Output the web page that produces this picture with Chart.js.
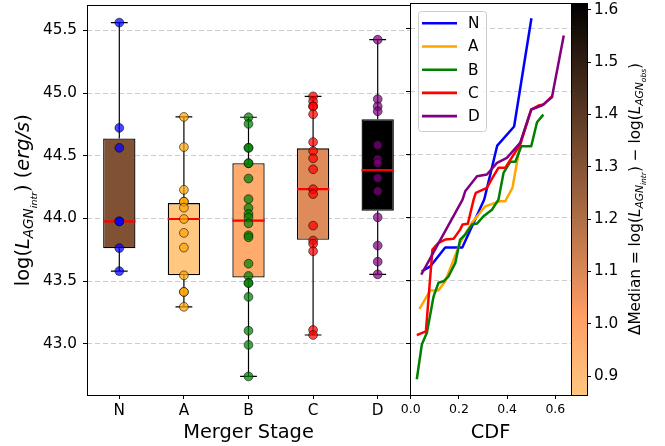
<!DOCTYPE html>
<html><head><meta charset="utf-8">
<script src="https://cdn.jsdelivr.net/npm/chart.js@4.4.0/dist/chart.umd.min.js"></script>
<style>
html,body{margin:0;padding:0;background:#fff;}
#wrap{position:relative;width:665px;height:446px;overflow:hidden;background:#fff;}
canvas{position:absolute;top:0;}
#c1{left:0;width:420px;height:446px;}
#c2{left:395px;width:190px;height:446px;}
#c3{left:560px;width:105px;height:446px;}
</style></head><body>
<div id="wrap">
<canvas id="c1" width="420" height="446"></canvas>
<canvas id="c2" width="190" height="446"></canvas>
<canvas id="c3" width="105" height="446"></canvas>
</div>
<script>
// ---------------- DATA ----------------
const categories = ['N', 'A', 'B', 'C', 'D'];
const boxQ1 = [43.762, 43.545, 43.527, 43.829, 44.061];
const boxQ3 = [44.638, 44.122, 44.440, 44.559, 44.791];
const boxMedian = [43.976, 43.995, 43.982, 44.233, 44.385];
const whiskerLow = [43.579, 43.294, 42.738, 43.069, 43.553];
const whiskerHigh = [45.563, 44.810, 44.807, 44.974, 45.426];
const deltaMedian = [1.31, 0.864, 0.97, 1.09, 1.613];

const pointsN = [45.563, 44.722, 44.563, 43.976, 43.976, 43.762, 43.579];
const pointsA = [44.810, 44.569, 44.228, 44.133, 44.133, 44.085, 43.995, 43.884, 43.767, 43.545, 43.413, 43.413, 43.294];
const pointsB = [44.807, 44.754, 44.563, 44.563, 44.440, 44.440, 44.318, 44.154, 44.083, 44.035, 44.008, 43.960,
                 43.865, 43.849, 43.638, 43.540, 43.484, 43.484, 43.373, 43.103, 42.990, 42.738];
const pointsC = [44.974, 44.934, 44.894, 44.894, 44.831, 44.609, 44.537, 44.479, 44.392, 44.233, 44.194, 43.942,
                 43.823, 43.797, 43.738, 43.109, 43.069];
const pointsD = [45.426, 44.952, 44.894, 44.855, 44.585, 44.470, 44.440, 44.321, 44.217, 44.008, 43.783, 43.654, 43.553];

const cdfN = [0.050, 0.081, 0.143, 0.214, 0.305, 0.359, 0.429, 0.500];
const lumN = [43.575, 43.610, 43.760, 43.760, 44.141, 44.569, 44.720, 45.569];
const cdfA = [0.039, 0.081, 0.115, 0.143, 0.205, 0.254, 0.309, 0.371, 0.392, 0.422, 0.454, 0.490];
const lumA = [43.281, 43.420, 43.420, 43.490, 43.797, 43.956, 44.087, 44.127, 44.127, 44.233, 44.577, 44.795];
const cdfB = [0.026, 0.046, 0.067, 0.095, 0.115, 0.136, 0.157, 0.185, 0.205, 0.226, 0.254, 0.275, 0.302, 0.337,
              0.364, 0.385, 0.413, 0.434, 0.459, 0.500, 0.524, 0.547];
const lumB = [42.725, 42.990, 43.083, 43.373, 43.480, 43.492, 43.532, 43.638, 43.823, 43.863, 43.942, 43.950, 44.008, 44.060,
              44.140, 44.352, 44.440, 44.440, 44.563, 44.563, 44.754, 44.807];
const cdfC = [0.030, 0.063, 0.090, 0.115, 0.143, 0.178, 0.205, 0.215, 0.237, 0.261, 0.270, 0.316, 0.339, 0.364,
              0.392, 0.454, 0.500, 0.530, 0.551, 0.586];
const lumC = [43.069, 43.095, 43.744, 43.797, 43.823, 43.829, 43.902, 43.942, 43.948, 44.140, 44.194, 44.233, 44.313, 44.392,
              44.392, 44.577, 44.855, 44.886, 44.894, 44.960];
const cdfD = [0.046, 0.215, 0.226, 0.275, 0.316, 0.358, 0.399, 0.454, 0.500, 0.544, 0.586, 0.634];
const lumD = [43.553, 44.140, 44.206, 44.325, 44.339, 44.432, 44.471, 44.590, 44.855, 44.886, 44.952, 45.432];

const yTickValues = [43.0, 43.5, 44.0, 44.5, 45.0, 45.5];
const cdfTickValues = [0.0, 0.2, 0.4, 0.6];
const cbarTickValues = [0.9, 1.0, 1.1, 1.2, 1.3, 1.4, 1.5, 1.6];

// ---------------- STYLE / HELPERS ----------------
const yMin = 42.59, yMax = 45.70;
const cdfMin = -0.003, cdfMax = 0.665;
const cbMin = Math.min(...deltaMedian), cbMax = Math.max(...deltaMedian);
const seriesColors = ['rgb(0,0,255)', 'rgb(255,165,0)', 'rgb(0,128,0)', 'rgb(255,0,0)', 'rgb(128,0,128)'];
const pointFill = ['rgba(0,0,255,0.72)', 'rgba(255,165,0,0.72)', 'rgba(0,128,0,0.72)', 'rgba(255,0,0,0.72)', 'rgba(128,0,128,0.72)'];
const gridColor = 'rgba(0,0,0,0.2)';
const FONT = '"DejaVu Sans", sans-serif';

Chart.defaults.font.family = FONT;
Chart.defaults.color = '#000';
Chart.defaults.animation = false;

function copper(x) {
  return [Math.min(1, 1.25 * x), 0.7812 * x, 0.4975 * x].map(c => Math.round(c * 255));
}
function cmap(v) {
  const t = Math.max(0, Math.min(1, (v - cbMin) / (cbMax - cbMin)));
  return 'rgb(' + copper(1 - t).join(',') + ')';
}

function drawRich(ctx, parts, cx, cy, rot, base) {
  ctx.save();
  ctx.translate(cx, cy);
  ctx.rotate(rot);
  const fontOf = p => (p.it ? 'italic ' : '') + (base * (p.s || 1)).toFixed(2) + 'px ' + FONT;
  let total = 0;
  const widths = parts.map(p => { ctx.font = fontOf(p); const w = ctx.measureText(p.t).width; total += w; return w; });
  let x = -total / 2;
  ctx.fillStyle = '#000';
  ctx.textAlign = 'left';
  ctx.textBaseline = 'alphabetic';
  parts.forEach((p, i) => {
    ctx.font = fontOf(p);
    ctx.fillText(p.t, x, (p.dy || 0) * base + 0.36 * base);
    x += widths[i];
  });
  ctx.restore();
}

const framePlugin = {
  id: 'frame',
  afterDraw(chart) {
    const a = chart.chartArea, ctx = chart.ctx;
    ctx.save();
    ctx.strokeStyle = '#000';
    ctx.lineWidth = 1;
    const l = Math.round(a.left) + 0.5, t = Math.round(a.top) + 0.5;
    const r = Math.round(a.right) + 0.5, b = Math.round(a.bottom) + 0.5;
    ctx.strokeRect(l, t, r - l, b - t);
    ctx.restore();
  }
};

const ylabelPlugin = {
  id: 'ylabel',
  afterDraw(chart) {
    const a = chart.chartArea;
    drawRich(chart.ctx, [
      {t: 'log('}, {t: 'L', it: true}, {t: 'AGN', it: true, s: 0.7, dy: 0.22},
      {t: 'intr', it: true, s: 0.49, dy: 0.42}, {t: ')'}, {t: ' ('}, {t: 'erg/s', it: true}, {t: ')'}
    ], 22, (a.top + a.bottom) / 2, -Math.PI / 2, 19.4);
  }
};

// ---------------- CHART 1: box plot ----------------
const boxDatasets = [];
boxDatasets.push({
  type: 'bar',
  data: categories.map((c, i) => ({x: i, y: [boxQ1[i], boxQ3[i]]})),
  backgroundColor: deltaMedian.map(cmap),
  borderColor: '#000', borderWidth: 1.3, borderSkipped: false,
  barPercentage: 0.5, categoryPercentage: 1.0, order: 10
});
const whiskerData = [], capData = [], medData = [];
categories.forEach((c, i) => {
  whiskerData.push({x: i, y: whiskerLow[i]}, {x: i, y: boxQ1[i]}, {x: i, y: null},
                   {x: i, y: boxQ3[i]}, {x: i, y: whiskerHigh[i]}, {x: i, y: null});
  capData.push({x: i - 0.13, y: whiskerLow[i]}, {x: i + 0.13, y: whiskerLow[i]}, {x: i, y: null},
               {x: i - 0.13, y: whiskerHigh[i]}, {x: i + 0.13, y: whiskerHigh[i]}, {x: i, y: null});
  medData.push({x: i - 0.25, y: boxMedian[i]}, {x: i + 0.25, y: boxMedian[i]}, {x: i, y: null});
});
boxDatasets.push({type: 'line', data: whiskerData, borderColor: '#000', borderWidth: 1.2, pointRadius: 0, spanGaps: false, order: 8});
boxDatasets.push({type: 'line', data: capData, borderColor: '#000', borderWidth: 1.2, pointRadius: 0, spanGaps: false, order: 8});
boxDatasets.push({type: 'line', data: medData, borderColor: 'rgb(255,0,0)', borderWidth: 2.2, pointRadius: 0, spanGaps: false, order: 7});
[pointsN, pointsA, pointsB, pointsC, pointsD].forEach((pts, i) => {
  boxDatasets.push({
    type: 'scatter',
    data: pts.map(v => ({x: i, y: v})),
    backgroundColor: pointFill[i], borderColor: 'rgba(0,0,0,0.55)', borderWidth: 1,
    pointRadius: 4.4, order: 1
  });
});

new Chart(document.getElementById('c1'), {
  type: 'bar',
  data: {datasets: boxDatasets},
  options: {
    responsive: false, devicePixelRatio: 1, events: [],
    layout: {padding: {top: 3, right: 10, left: 0, bottom: 0}},
    plugins: {legend: {display: false}, tooltip: {enabled: false}},
    scales: {
      x: {
        type: 'linear', min: -0.5, max: 4.5, offset: false,
        afterBuildTicks: s => { s.ticks = categories.map((c, i) => ({value: i})); },
        afterFit: s => { s.height = 51; s.paddingLeft = 0; s.paddingRight = 0; },
        ticks: {font: {size: 15.3}, padding: 3, maxRotation: 0, autoSkip: false, callback: v => categories[v]},
        grid: {offset: false, drawOnChartArea: false, tickColor: '#000', tickLength: 4, tickWidth: 1},
        border: {display: false},
        title: {display: true, text: 'Merger Stage', font: {size: 19.4}, padding: {top: 0, bottom: 1}}
      },
      y: {
        min: yMin, max: yMax, z: 1,
        afterBuildTicks: s => { s.ticks = yTickValues.map(v => ({value: v})); },
        afterFit: s => { s.width = 87; s.paddingTop = 0; s.paddingBottom = 0; },
        ticks: {font: {size: 15.3}, padding: 6, callback: v => v.toFixed(1)},
        grid: {color: gridColor, lineWidth: 1, tickColor: '#000', tickLength: 4, tickWidth: 1},
        border: {display: false, dash: [5, 3]}
      }
    }
  },
  plugins: [framePlugin, ylabelPlugin]
});

// ---------------- CHART 2: CDF ----------------
const cdfX = [cdfN, cdfA, cdfB, cdfC, cdfD];
const cdfY = [lumN, lumA, lumB, lumC, lumD];
const legendPlugin = {
  id: 'innerLegend',
  afterDraw(chart) {
    const a = chart.chartArea, ctx = chart.ctx;
    const x0 = a.left + 8, y0 = a.top + 8, w = 68, h = 120;
    ctx.save();
    ctx.beginPath();
    ctx.roundRect(x0 + 0.5, y0 + 0.5, w, h, 3);
    ctx.fillStyle = 'rgba(255,255,255,0.8)';
    ctx.fill();
    ctx.strokeStyle = 'rgba(204,204,204,1)';
    ctx.lineWidth = 1;
    ctx.stroke();
    chart.data.datasets.forEach((ds, i) => {
      const y = y0 + 12.3 + i * 23.2;
      ctx.beginPath();
      ctx.moveTo(x0 + 4, y);
      ctx.lineTo(x0 + 39, y);
      ctx.strokeStyle = ds.borderColor;
      ctx.lineWidth = 2.6;
      ctx.stroke();
      ctx.fillStyle = '#000';
      ctx.font = '15.3px ' + FONT;
      ctx.textBaseline = 'middle';
      ctx.textAlign = 'left';
      ctx.fillText(ds.label, x0 + 50, y + 1);
    });
    ctx.restore();
  }
};

new Chart(document.getElementById('c2'), {
  type: 'line',
  data: {
    datasets: categories.map((c, i) => ({
      label: c,
      data: cdfX[i].map((x, j) => ({x: x, y: cdfY[i][j]})),
      borderColor: seriesColors[i], borderWidth: 2.5, pointRadius: 0,
      borderJoinStyle: 'round', borderCapStyle: 'square', tension: 0, order: 5 - i
    }))
  },
  options: {
    responsive: false, devicePixelRatio: 1, events: [],
    layout: {padding: {top: 3, right: 14, left: 0, bottom: 0}},
    plugins: {legend: {display: false}, tooltip: {enabled: false}},
    scales: {
      x: {
        type: 'linear', min: cdfMin, max: cdfMax,
        afterBuildTicks: s => { s.ticks = cdfTickValues.map(v => ({value: v})); },
        afterFit: s => { s.height = 51; s.paddingLeft = 0; s.paddingRight = 0; },
        ticks: {font: {size: 12.5}, padding: 3, maxRotation: 0, autoSkip: false, callback: v => v.toFixed(1)},
        grid: {drawOnChartArea: false, tickColor: '#000', tickLength: 4, tickWidth: 1},
        border: {display: false},
        title: {display: true, text: 'CDF', font: {size: 19.4}, padding: {top: 0, bottom: 1}}
      },
      y: {
        type: 'linear', min: yMin, max: yMax,
        afterBuildTicks: s => { s.ticks = yTickValues.map(v => ({value: v})); },
        afterFit: s => { s.width = 15; s.paddingTop = 0; s.paddingBottom = 0; },
        ticks: {display: false},
        grid: {color: gridColor, lineWidth: 1, tickColor: '#000', tickLength: 4, tickWidth: 1},
        border: {display: false, dash: [5, 3]}
      }
    }
  },
  plugins: [framePlugin, legendPlugin]
});

// ---------------- CHART 3: colorbar ----------------
const gradientPlugin = {
  id: 'cbarGradient',
  beforeDatasetsDraw(chart) {
    const a = chart.chartArea, ctx = chart.ctx, ys = chart.scales.y;
    const p0 = ys.getPixelForValue(cbMin), p1 = ys.getPixelForValue(cbMax);
    const g = ctx.createLinearGradient(0, p0, 0, p1);
    for (let k = 0; k <= 20; k++) {
      const v = cbMin + (cbMax - cbMin) * k / 20;
      g.addColorStop(k / 20, cmap(v));
    }
    ctx.save();
    ctx.fillStyle = g;
    ctx.fillRect(a.left, a.top, a.right - a.left, a.bottom - a.top);
    ctx.restore();
  },
  afterDraw(chart) {
    const a = chart.chartArea;
    drawRich(chart.ctx, [
      {t: 'ΔMedian = log('}, {t: 'L', it: true}, {t: 'AGN', it: true, s: 0.7, dy: 0.22},
      {t: 'intr', it: true, s: 0.49, dy: 0.42}, {t: ') − log('}, {t: 'L', it: true},
      {t: 'AGN', it: true, s: 0.7, dy: 0.22}, {t: 'obs', it: true, s: 0.49, dy: 0.42}, {t: ')'}
    ], 74, (a.top + a.bottom) / 2, -Math.PI / 2, 15.3);
  }
};

new Chart(document.getElementById('c3'), {
  type: 'scatter',
  data: {datasets: []},
  options: {
    responsive: false, devicePixelRatio: 1, events: [],
    layout: {padding: {top: 3, right: 0, left: 11, bottom: 51}},
    plugins: {legend: {display: false}, tooltip: {enabled: false}},
    scales: {
      x: {display: false, min: 0, max: 1},
      y: {
        position: 'right', min: cbMin, max: cbMax,
        afterBuildTicks: s => { s.ticks = cbarTickValues.map(v => ({value: v})); },
        afterFit: s => { s.width = 78; s.paddingTop = 0; s.paddingBottom = 0; },
        ticks: {font: {size: 15.3}, padding: 3, callback: v => v.toFixed(1)},
        grid: {drawOnChartArea: false, tickColor: '#000', tickLength: 4, tickWidth: 1},
        border: {display: false}
      }
    }
  },
  plugins: [gradientPlugin, framePlugin]
});
</script>
</body></html>
